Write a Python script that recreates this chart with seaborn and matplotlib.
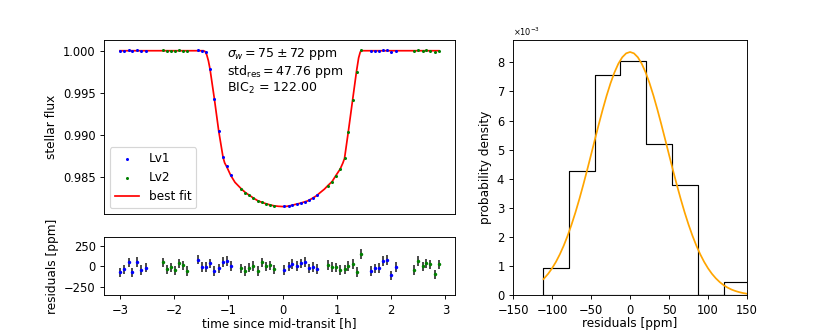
import matplotlib
matplotlib.use('Agg')
import matplotlib.pyplot as plt
import seaborn as sns
import numpy as np

# time since mid-transit [h] of the two visits
time_lv1 = [-3.00, -2.92, -2.84, -2.77, -2.69, -2.61, -2.53,
            -1.57, -1.49, -1.41, -1.34, -1.26, -1.18, -1.10, -1.03, -0.96,
            0.03, 0.11, 0.18, 0.26, 0.34, 0.41, 0.49, 0.56, 0.64,
            1.63, 1.70, 1.78, 1.85, 1.93, 2.00, 2.08]
time_lv2 = [-2.21, -2.13, -2.06, -1.98, -1.91, -1.83, -1.76,
            -0.77, -0.69, -0.62, -0.54, -0.46, -0.38, -0.31, -0.23, -0.16,
            0.83, 0.91, 0.98, 1.06, 1.14, 1.21, 1.29, 1.37, 1.44,
            2.42, 2.50, 2.58, 2.65, 2.72, 2.81, 2.88]

# normalised stellar flux
flux_lv1 = [0.99992, 0.99996, 1.00005, 0.99992, 1.00006, 0.99996, 0.99999,
            1.00008, 1.00000, 0.99984, 0.99784, 0.99424, 0.99046, 0.98742, 0.98629, 0.98525,
            0.98155, 0.98163, 0.98172, 0.98183, 0.98195, 0.98210, 0.98226, 0.98257, 0.98284,
            0.99994, 0.99998, 0.99998, 1.00007, 1.00008, 0.99989, 1.00000]
flux_lv2 = [1.00005, 0.99996, 0.99999, 0.99995, 1.00004, 1.00001, 0.99994,
            0.98364, 0.98314, 0.98288, 0.98255, 0.98216, 0.98207, 0.98187, 0.98173, 0.98158,
            0.98402, 0.98449, 0.98520, 0.98598, 0.98724, 0.99041, 0.99421, 0.99753, 1.00005,
            0.99996, 1.00007, 1.00000, 1.00004, 1.00002, 0.99990, 1.00002]

# residuals [ppm]
resid_lv1 = [-75, -37, 50, -75, 59, -44, -15,
             84, -4, -4, 37, -54, -25, 59, 71, 8,
             -44, 0, 33, 8, 37, 59, -25, -8, -33,
             -58, -25, -17, 66, 83, -111.4, -4]
resid_lv2 = [50, -37, -12, -50, 37, 12, -59,
             -25, -59, -15, 8, -59, 50, 0, 12, -37,
             17, -8, -12, -44, -37, 8, 29, -66, 153,
             -42, 66, 0, 37, 25, -100, 25]
resid_err = 60

# best-fit transit model
model_time = [-3.00, -1.46, -1.43, -1.40, -1.37, -1.34, -1.26, -1.18, -1.10, -1.07,
              -1.03, -0.96, -0.88, -0.77, -0.69, -0.62, -0.54, -0.46, -0.38, -0.31,
              -0.23, -0.16, -0.08, 0.00, 0.08, 0.16, 0.23, 0.31, 0.38, 0.46,
              0.54, 0.62, 0.69, 0.77, 0.83, 0.91, 0.98, 1.06, 1.11, 1.14,
              1.21, 1.29, 1.36, 1.40, 1.43, 1.46, 2.88]
model_flux = [1.00000, 1.00000, 0.99990, 0.99950, 0.99880, 0.99781, 0.99429, 0.99048, 0.98736, 0.98670,
              0.98622, 0.98524, 0.98440, 0.98367, 0.98320, 0.98289, 0.98254, 0.98222, 0.98202, 0.98187,
              0.98172, 0.98162, 0.98156, 0.98153, 0.98156, 0.98166, 0.98178, 0.98190, 0.98204, 0.98220,
              0.98248, 0.98280, 0.98318, 0.98360, 0.98400, 0.98449, 0.98520, 0.98598, 0.98670, 0.98724,
              0.99041, 0.99421, 0.99753, 0.99915, 0.99985, 1.00000, 1.00000]

# gaussian curve over the residual histogram (density x 1e-3)
gauss_x = [-111, -105, -100, -95, -90, -85, -80, -75, -70, -65, -60, -55, -50, -45,
           -40, -35, -30, -25, -20, -15, -10, -5, 0, 5, 10, 15, 20, 25, 30, 35,
           40, 45, 50, 55, 60, 65, 70, 75, 80, 85, 90, 95, 100, 105, 110, 115,
           120, 125, 130, 135, 140, 145, 150]
gauss_pdf = [0.561, 0.745, 0.933, 1.155, 1.415, 1.714, 2.054, 2.434, 2.853, 3.309, 3.795, 4.304, 4.829, 5.359,
             5.882, 6.386, 6.858, 7.284, 7.651, 7.951, 8.172, 8.307, 8.353, 8.307, 8.172, 7.951, 7.651, 7.284,
             6.858, 6.386, 5.882, 5.359, 4.829, 4.304, 3.795, 3.309, 2.853, 2.434, 2.054, 1.714, 1.415, 1.155,
             0.933, 0.745, 0.589, 0.460, 0.355, 0.272, 0.205, 0.154, 0.114, 0.083, 0.060]

plt.rcParams['axes.labelsize'] = 10.5

fig = plt.figure(figsize=(10, 4), dpi=83)
gs = fig.add_gridspec(2, 2, width_ratios=[3, 2], height_ratios=[3, 1])
ax_lc = fig.add_subplot(gs[0, 0])
ax_res = fig.add_subplot(gs[1, 0], sharex=ax_lc)
ax_hist = fig.add_subplot(gs[:, 1])

# light curve
sns.scatterplot(x=time_lv1, y=flux_lv1, color='b', marker='o', s=7, linewidth=0,
                label='Lv1', ax=ax_lc, zorder=3)
sns.scatterplot(x=time_lv2, y=flux_lv2, color='g', marker='o', s=7, linewidth=0,
                label='Lv2', ax=ax_lc, zorder=3)
sns.lineplot(x=model_time, y=model_flux, color='r', label='best fit', ax=ax_lc, zorder=2)
ax_lc.legend(loc='lower left', fontsize=10.5)
ax_lc.set_ylim(0.98063, 1.00129)
ax_lc.set_xlim(-3.30, 3.17)
ax_lc.set_yticks([0.985, 0.990, 0.995, 1.000])
ax_lc.set_ylabel('stellar flux')
ax_lc.tick_params(axis='x', bottom=False, labelbottom=False)

stats_lines = ['$\\sigma_w = 75 \\pm 72$ ppm',
               'std$_{\\mathrm{res}} = 47.76$ ppm',
               'BIC$_2$ = 122.00']
for i, line in enumerate(stats_lines):
    ax_lc.text(0.35, 0.900 - 0.099 * i, line, transform=ax_lc.transAxes,
               va='baseline', ha='left', fontsize=10.8)

# residuals
ax_res.errorbar(time_lv1, resid_lv1, yerr=resid_err, fmt='none', ecolor='0.2', elinewidth=1.5)
ax_res.errorbar(time_lv2, resid_lv2, yerr=resid_err, fmt='none', ecolor='0.2', elinewidth=1.5)
sns.scatterplot(x=time_lv1, y=resid_lv1, color='b', marker='o', s=9, linewidth=0, ax=ax_res, zorder=3)
sns.scatterplot(x=time_lv2, y=resid_lv2, color='g', marker='o', s=9, linewidth=0, ax=ax_res, zorder=3)
ax_res.set_ylim(-360, 360)
ax_res.set_yticks([-250, 0, 250])
ax_res.set_xticks([-3, -2, -1, 0, 1, 2, 3])
ax_res.set_xlabel('time since mid-transit [h]', labelpad=0)
ax_res.set_ylabel('residuals [ppm]')

# residual histogram
all_resid = resid_lv1 + resid_lv2
sns.histplot(x=all_resid, bins=8, stat='density', element='step', fill=True,
             color='k', facecolor='none', edgecolor='k', linewidth=1, ax=ax_hist)
sns.lineplot(x=gauss_x, y=np.array(gauss_pdf) * 1e-3, color='orange', ax=ax_hist)
ax_hist.set_xlim(-150, 150)
ax_hist.set_ylim(0, 0.00877)
ax_hist.set_xticks([-150, -100, -50, 0, 50, 100, 150])
ax_hist.ticklabel_format(axis='y', style='sci', scilimits=(0, 0), useMathText=True)
ax_hist.yaxis.get_offset_text().set_fontsize(7)
ax_hist.set_xlabel('residuals [ppm]', labelpad=0)
ax_hist.set_ylabel('probability density')

fig.savefig('out.png', dpi=83)
